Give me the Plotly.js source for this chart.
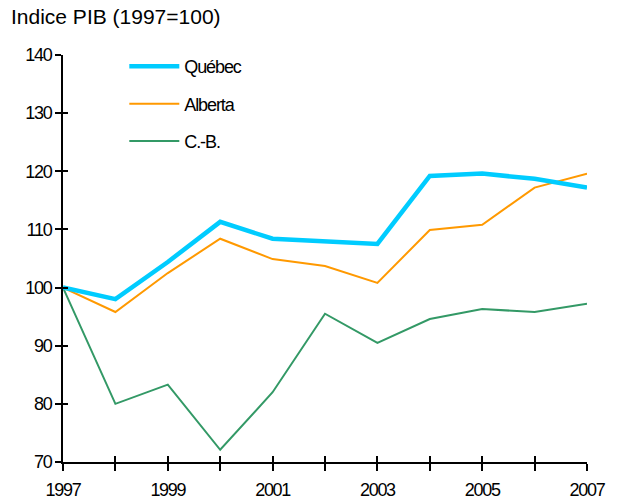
<!DOCTYPE html>
<html><head><meta charset="utf-8">
<script src="https://cdn.plot.ly/plotly-3.0.1.min.js"></script>
<style>body{margin:0;background:#fff}#c{width:617px;height:502px}
#c .xtick text, #c .ytick text{letter-spacing:-1.3px}
#c .legendtext{letter-spacing:-1.1px}
</style>
</head><body><div id="c"></div>
<script>
const years = [1997,1998,1999,2000,2001,2002,2003,2004,2005,2006,2007];
const xTickLabels = ['1997','','1999','','2001','','2003','','2005','','2007'];
const yTicks = [70,80,90,100,110,120,130,140];
const quebec = [100,98.0,104.4,111.3,108.4,108.0,107.5,119.2,119.6,118.7,117.2];
const alberta = [100,95.8,102.5,108.4,104.9,103.7,100.8,109.9,110.8,117.2,119.6];
const cb = [100,80.0,83.3,72.1,82.0,95.5,90.5,94.6,96.3,95.8,97.2];

const font = {family:'Liberation Sans, Arial, sans-serif', color:'#000'};
const traces = [
  {x:years, y:quebec, name:'Québec', mode:'lines', line:{color:'#00CCFF', width:4.5}, xaxis:'x2', yaxis:'y2', legendgroup:'a'},
  {x:years, y:alberta, name:'Alberta', mode:'lines', line:{color:'#FF9900', width:2}, legendgroup:'b'},
  {x:years, y:cb, name:'C.-B.', mode:'lines', line:{color:'#339966', width:2}, legendgroup:'c'}
];
const layout = {
  width:617, height:502,
  margin:{l:63, r:30, t:55, b:40},
  paper_bgcolor:'#fff', plot_bgcolor:'#fff',
  font: Object.assign({size:18}, font),
  showlegend:true,
  legend:{x:0.117, y:1.017, xanchor:'left', yanchor:'top', bgcolor:'rgba(0,0,0,0)', tracegroupgap:11, font:Object.assign({size:18}, font), itemwidth:50},
  annotations:[{text:'Indice PIB (1997=100)', xref:'paper', yref:'paper', x:-0.104, y:1.127, xanchor:'left', yanchor:'top', showarrow:false, font:Object.assign({size:21}, font)}],
  xaxis:{range:[1997,2007], tickmode:'array', tickvals:years, ticktext:xTickLabels, ticks:'outside', ticklen:7, tickwidth:2, tickcolor:'#000', showline:true, linewidth:2, linecolor:'#000', showgrid:false, zeroline:false, tickfont:Object.assign({size:18}, font), ticklabelstandoff:3, fixedrange:true},
  yaxis:{range:[70,140], tickmode:'array', tickvals:yTicks, ticks:'outside', ticklen:6, tickwidth:2, tickcolor:'#000', showline:true, linewidth:2, linecolor:'#000', showgrid:false, zeroline:false, tickfont:Object.assign({size:18}, font)},
  xaxis2:{range:[1997,2007], overlaying:'x', anchor:'y2', tickmode:'array', tickvals:years, ticks:'inside', ticklen:6, tickwidth:2, tickcolor:'#000', showticklabels:false, showline:false, showgrid:false, zeroline:false},
  yaxis2:{range:[70,140], overlaying:'y', anchor:'x2', tickmode:'array', tickvals:yTicks, ticks:'inside', ticklen:5, tickwidth:2, tickcolor:'#000', showticklabels:false, showline:false, showgrid:false, zeroline:false}
};
Plotly.newPlot('c', traces, layout, {displayModeBar:false, staticPlot:true});
</script></body></html>
